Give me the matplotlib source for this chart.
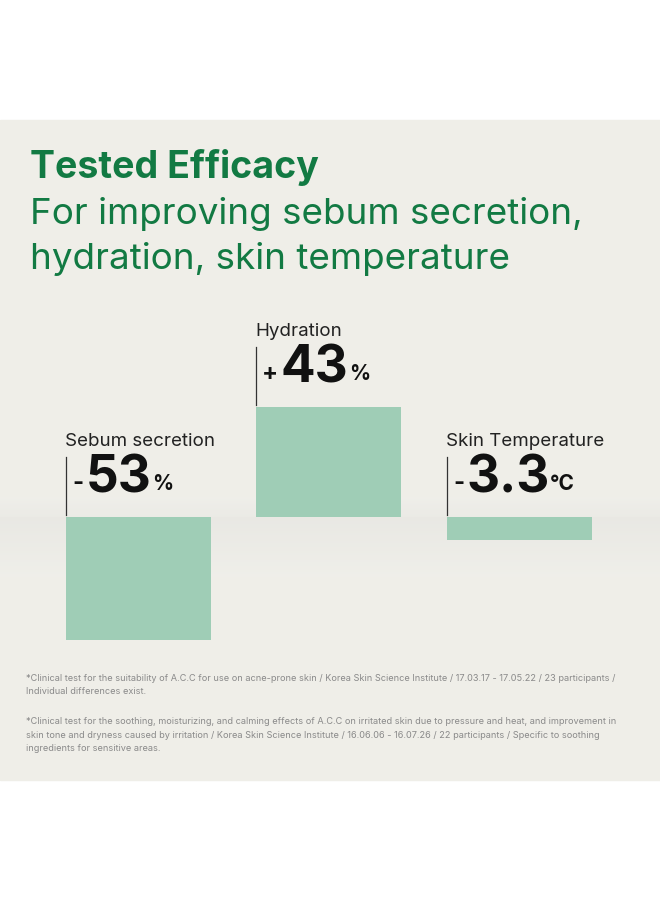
import matplotlib.pyplot as plt
import numpy as np

# chart data
labels = ["Sebum secretion", "Hydration", "Skin Temperature"]
signs = ["-", "+", "-"]
numbers = ["53", "43", "3.3"]
units = ["%", "%", "°C"]
bar_lengths = [-123, 110, -23]   # drawn bar extent
footnotes = [
    "*Clinical test for the suitability of A.C.C for use on acne-prone skin / Korea Skin Science Institute / 17.03.17 - 17.05.22 / 23 participants /\nIndividual differences exist.",
    "*Clinical test for the soothing, moisturizing, and calming effects of A.C.C on irritated skin due to pressure and heat, and improvement in\nskin tone and dryness caused by irritation / Korea Skin Science Institute / 16.06.06 - 16.07.26 / 22 participants / Specific to soothing\ningredients for sensitive areas.",
]

plt.rcParams['font.family'] = ['Inter', 'DejaVu Sans']
fig = plt.figure(figsize=(6.6, 9), dpi=100)
ax = fig.add_axes([0, 0, 1, 1])
ax.set_xlim(0, 660)
ax.set_ylim(900, 0)
ax.axis('off')

base = 517
green = '#127a43'
bar_col = '#9fcdb6'

# background panel with soft shading around the baseline
ax.add_patch(plt.Rectangle((0, 120), 660, 660, color='#efeee8', zorder=0))
grad = np.linspace(0.88, 0.94, 60).reshape(-1, 1)
ax.imshow(np.dstack([grad, grad, grad * 0.985]), extent=(0, 660, base + 60, base),
          aspect='auto', zorder=0.5, alpha=0.4)
grad2 = np.linspace(0.94, 0.9, 20).reshape(-1, 1)
ax.imshow(np.dstack([grad2, grad2, grad2 * 0.985]), extent=(0, 660, base, base - 20),
          aspect='auto', zorder=0.5, alpha=0.35)

ax.text(30, 167, "Tested Efficacy", color=green, fontsize=27, fontweight='bold', va='center')
ax.text(30, 214, "For improving sebum secretion,", color=green, fontsize=26.5, va='center')
ax.text(30, 259, "hydration, skin temperature", color=green, fontsize=26.5, va='center')

lefts = [66, 256, 447]
width = 145
ax.bar(lefts, [-v for v in bar_lengths], width=width, bottom=base, align='edge',
       color=bar_col, zorder=2)

for x, lab, s, n, u, L in zip(lefts, labels, signs, numbers, units, bar_lengths):
    top = base if L < 0 else base - L
    ax.text(x - 1, top - 76, lab, fontsize=13.5, color='#222222', va='center')
    ax.plot([x, x], [top - 60, top - 2], color='#333333', lw=0.9, zorder=3)
    t1 = ax.text(x + 6, top - 33, s, fontsize=17, fontweight='bold', color='#111111', va='center')
    ax.annotate(n, xy=(1, 0), xycoords=t1, xytext=(2, -6), textcoords='offset points',
                fontsize=37, fontweight='bold', color='#111111', va='bottom')
    t2 = ax.texts[-1]
    ax.annotate(u, xy=(1, 0), xycoords=t2, xytext=(0, 7), textcoords='offset points',
                fontsize=15, fontweight='bold', color='#111111', va='bottom')

ax.text(26, 685, footnotes[0], fontsize=6.6, color='#8a8a8a', va='center', linespacing=1.6)
ax.text(26, 735, footnotes[1], fontsize=6.6, color='#8a8a8a', va='center', linespacing=1.6)

fig.savefig('out.png', dpi=100)
